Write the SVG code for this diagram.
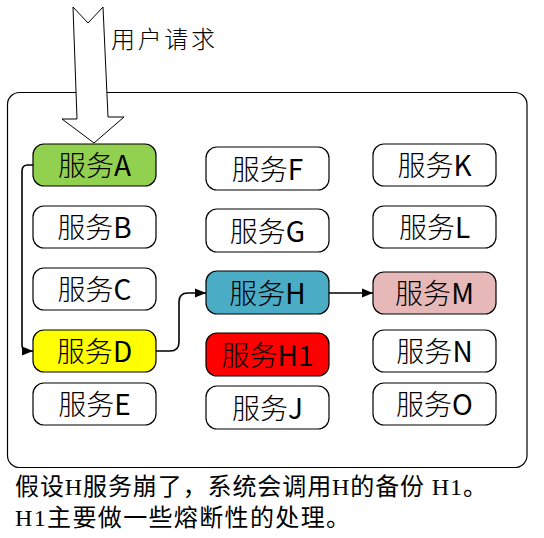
<svg xmlns="http://www.w3.org/2000/svg" width="544" height="538" viewBox="0 0 544 538">
<style>
.box{stroke:#000;stroke-width:1.2;fill:#fff}
.lbl{font-family:"Noto Sans CJK SC","Liberation Sans",sans-serif;font-size:28px;fill:#000;text-anchor:middle}
.cj{font-weight:300}
.con{fill:none;stroke:#000;stroke-width:1.6}
.note{font-family:"Liberation Serif","Noto Sans CJK SC",serif;font-size:24px;fill:#000}
</style>
<defs>
<marker id="arr2" viewBox="0 0 10 10" refX="10" refY="5" markerWidth="11" markerHeight="11" markerUnits="userSpaceOnUse" orient="auto">
<path d="M0,1 L10,5 L0,9 Z" fill="#000"/>
</marker>
</defs>
<rect id="container" x="7.5" y="92.5" width="519.5" height="375" rx="12" fill="#fff" stroke="#000" stroke-width="1.2"/>
<g id="request-arrow">
<polygon points="73,7 88,23 103,7 108,117 124,117 94,143 62,119 77,119" fill="#fff" stroke="#000" stroke-width="1"/>
<text x="111" y="48" font-family="Noto Sans CJK SC,sans-serif" font-size="24" font-weight="300" textLength="104" lengthAdjust="spacing" fill="#000">用户请求</text>
</g>
<g id="connectors">
<path class="con" d="M33,165 H28 Q22,165 22,171 V345 Q22,351 28,351 H33" marker-end="url(#arr2)"/>
<path class="con" d="M156,351 H170 Q179,351 179,342 V302 Q179,293 188,293 H206" marker-end="url(#arr2)"/>
<path class="con" d="M329,293 H373" marker-end="url(#arr2)"/>
</g>
<g id="nodeA"><rect class="box" x="33" y="144" width="123" height="42" rx="11" style="fill:#92D050"/><text class="lbl" x="94.5" y="176"><tspan class="cj">服务</tspan>A</text></g>
<g id="nodeB"><rect class="box" x="33" y="206" width="123" height="42" rx="11"/><text class="lbl" x="94.5" y="238"><tspan class="cj">服务</tspan>B</text></g>
<g id="nodeC"><rect class="box" x="33" y="268" width="123" height="42" rx="11"/><text class="lbl" x="94.5" y="300"><tspan class="cj">服务</tspan>C</text></g>
<g id="nodeD"><rect class="box" x="33" y="330" width="123" height="42" rx="11" style="fill:#FFFF00"/><text class="lbl" x="94.5" y="362"><tspan class="cj">服务</tspan>D</text></g>
<g id="nodeE"><rect class="box" x="33" y="383" width="123" height="42" rx="11"/><text class="lbl" x="94.5" y="415"><tspan class="cj">服务</tspan>E</text></g>
<g id="nodeF"><rect class="box" x="206" y="147" width="123" height="43" rx="11"/><text class="lbl" x="267.5" y="179.5"><tspan class="cj">服务</tspan>F</text></g>
<g id="nodeG"><rect class="box" x="206" y="209" width="123" height="43" rx="11"/><text class="lbl" x="267.5" y="241.5"><tspan class="cj">服务</tspan>G</text></g>
<g id="nodeH"><rect class="box" x="206" y="271" width="123" height="43" rx="11" style="fill:#4BACC6"/><text class="lbl" x="267.5" y="303.5"><tspan class="cj">服务</tspan>H</text></g>
<g id="nodeH1"><rect class="box" x="206" y="333" width="123" height="43" rx="11" style="fill:#FF0000"/><text class="lbl" x="267.5" y="365.5"><tspan class="cj">服务</tspan>H1</text></g>
<g id="nodeJ"><rect class="box" x="206" y="386" width="123" height="43" rx="11"/><text class="lbl" x="267.5" y="418.5"><tspan class="cj">服务</tspan>J</text></g>
<g id="nodeK"><rect class="box" x="373" y="144" width="123" height="42" rx="11"/><text class="lbl" x="434.5" y="176"><tspan class="cj">服务</tspan>K</text></g>
<g id="nodeL"><rect class="box" x="373" y="206" width="123" height="42" rx="11"/><text class="lbl" x="434.5" y="238"><tspan class="cj">服务</tspan>L</text></g>
<g id="nodeM"><rect class="box" x="373" y="272" width="123" height="42" rx="11" style="fill:#E6B9B8"/><text class="lbl" x="434.5" y="304"><tspan class="cj">服务</tspan>M</text></g>
<g id="nodeN"><rect class="box" x="373" y="330" width="123" height="42" rx="11"/><text class="lbl" x="434.5" y="362"><tspan class="cj">服务</tspan>N</text></g>
<g id="nodeO"><rect class="box" x="373" y="383" width="123" height="42" rx="11"/><text class="lbl" x="434.5" y="415"><tspan class="cj">服务</tspan>O</text></g>
<g id="note">
<text class="note" x="15" y="495" textLength="472" lengthAdjust="spacing">假设H服务崩了，系统会调用H的备份 H1。</text>
<text class="note" x="15" y="526" textLength="335" lengthAdjust="spacing">H1主要做一些熔断性的处理。</text>
</g>
</svg>
